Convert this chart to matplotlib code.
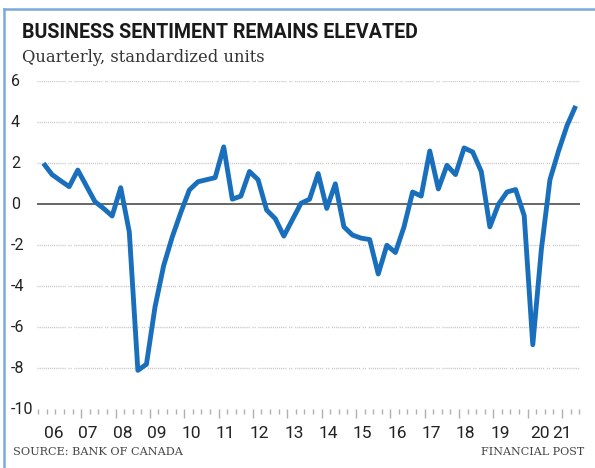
import matplotlib
matplotlib.use("Agg")
import matplotlib.pyplot as plt
from matplotlib.transforms import blended_transform_factory
from matplotlib.lines import Line2D

# ---- data (quarterly, 2006Q1 .. 2021Q3) ----
sentiment = [2.0, 1.45, 1.15, 0.86, 1.67, 0.9, 0.13, -0.2, -0.57, 0.81, -1.35, -8.1,
             -7.8, -5.0, -3.0, -1.6, -0.4, 0.7, 1.1, 1.2, 1.3, 2.8, 0.25, 0.4,
             1.6, 1.2, -0.28, -0.7, -1.55, -0.75, 0.05, 0.25, 1.5, -0.2, 1.0, -1.1,
             -1.5, -1.65, -1.72, -3.4, -2.0, -2.35, -1.1, 0.6, 0.4, 2.6, 0.75, 1.9,
             1.45, 2.75, 2.55, 1.6, -1.1, 0.0, 0.6, 0.72, -0.55, -6.85, -2.2, 1.2,
             2.6, 3.85, 4.8]
year_labels = ["06", "07", "08", "09", "10", "11", "12", "13", "14", "15",
               "16", "17", "18", "19", "20", "21"]
y_ticks = [6, 4, 2, 0, -2, -4, -6, -8, -10]

W, H = 595, 468
fig = plt.figure(figsize=(W / 100, H / 100), dpi=100)
fig.patch.set_facecolor("white")

def fx(px):
    return px / W

def fy(py):
    return (H - py) / H

ax = fig.add_axes([fx(37), fy(409.3), fx(580) - fx(37), fy(81.3) - fy(409.3)])
ax.set_xlim(-0.75, 62.5)
ax.set_ylim(-10, 6)
for s in ax.spines.values():
    s.set_visible(False)
ax.set_facecolor("none")

# gridlines
dash = []
for _ in range(14):
    dash += [0.75, 0.75]
dash[-1] = 2.0
dash += [0.75, 0.75, 0.75, 2.0]
for v in y_ticks:
    if v in (0, -10):
        continue
    ax.axhline(v, color="#c4c4c4", lw=1.0, dashes=dash, zorder=1)
ax.axhline(0, color="#5a5a5a", lw=1.3, zorder=2)

# series
x = list(range(len(sentiment)))
ax.plot(x, sentiment, color="#1a6fbd", lw=3.5, solid_joinstyle="round",
        solid_capstyle="butt", zorder=3)

# ticks
minor_pos = [k + 0.4 for k in range(-1, 63)]
major_pos = [k + 0.4 for k in range(4, 63, 4)]
ax.set_xticks(major_pos)
ax.set_xticks([p for p in minor_pos if p not in major_pos], minor=True)
ax.set_xticklabels([])
ax.set_yticks([])
ax.tick_params(axis="x", which="major", direction="out", length=6.5, width=1.0,
               color="#b0b0b0")
ax.tick_params(axis="x", which="minor", direction="out", length=3.8, width=1.0,
               color="#b0b0b0")

# year labels
lab_tr = blended_transform_factory(ax.transData, fig.transFigure)
label_pos = [4 * k + 1.2 for k in range(len(year_labels))]
label_pos[-2] = 57.8
label_pos[-1] = 60.4
for p, t in zip(label_pos, year_labels):
    ax.text(p, fy(434), t, transform=lab_tr, ha="center", va="center",
            fontsize=12.5, family="Roboto", color="#222222")

# y labels
ytr = blended_transform_factory(fig.transFigure, ax.transData)
for v in y_ticks:
    ax.text(fx(11), v, str(v), transform=ytr, ha="left", va="center",
            fontsize=11.5, family="Roboto", color="#222222")

# titles
fig.text(fx(22), fy(38), "BUSINESS SENTIMENT REMAINS ELEVATED", ha="left",
         va="baseline", fontsize=14.1, fontweight="bold", family="Roboto",
         color="#1a1a1a")
fig.text(fx(22), fy(62.5), "Quarterly, standardized units", ha="left",
         va="baseline", fontsize=11.8, family="DejaVu Serif", color="#333333")
fig.text(fx(13), fy(452), "SOURCE: BANK OF CANADA", ha="left", va="center",
         fontsize=8.1, family="DejaVu Serif", color="#444444")
fig.text(fx(584), fy(452), "FINANCIAL POST", ha="right", va="center",
         fontsize=8.0, family="DejaVu Serif", color="#444444")

# frame border (left and top)
fig.add_artist(Line2D([fx(4), fx(4)], [0, fy(9)], transform=fig.transFigure,
                      color="#7aaadb", lw=1.8))
fig.add_artist(Line2D([fx(4), 1], [fy(9), fy(9)], transform=fig.transFigure,
                      color="#7aaadb", lw=1.8))

fig.savefig("out.png", dpi=100, facecolor="white")
